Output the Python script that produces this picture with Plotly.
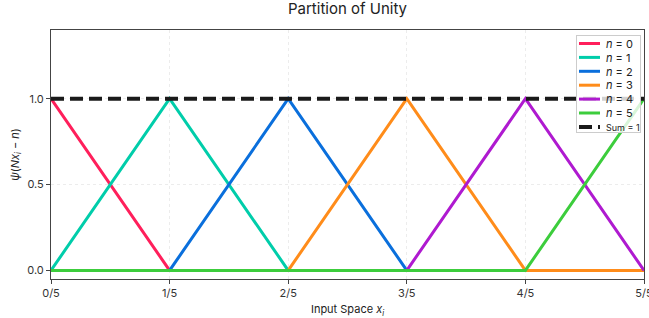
import numpy as np
import plotly.graph_objects as go

N = 5
x_knots = [0.0, 0.2, 0.4, 0.6, 0.8, 1.0]
series_names = ["n = 0", "n = 1", "n = 2", "n = 3", "n = 4", "n = 5"]
series_values = [
    [1, 0, 0, 0, 0, 0],
    [0, 1, 0, 0, 0, 0],
    [0, 0, 1, 0, 0, 0],
    [0, 0, 0, 1, 0, 0],
    [0, 0, 0, 0, 1, 0],
    [0, 0, 0, 0, 0, 1],
]
sum_values = [1, 1, 1, 1, 1, 1]
colors = ["#FF1F5B", "#00CDAA", "#0A6FDC", "#FF8C1A", "#AF1AD0", "#3CCD3C"]
tick_vals = [0, 0.2, 0.4, 0.6, 0.8, 1.0]
tick_text = ["0/5", "1/5", "2/5", "3/5", "4/5", "5/5"]

fig = go.Figure()
for i, (name, vals) in enumerate(zip(series_names, series_values)):
    fig.add_trace(go.Scatter(
        x=x_knots, y=vals, mode="lines",
        name="<i>n</i> = %d" % i,
        line=dict(color=colors[i], width=3),
    ))
fig.add_trace(go.Scatter(
    x=x_knots, y=sum_values, mode="lines", name="<span style='font-size:9px'>Sum = 1</span>",
    line=dict(color="#1a1a1a", width=4, dash="13px,6px"),
))

axis_common = dict(
    showline=True, linecolor="#444", linewidth=1, mirror=True,
    ticks="outside", ticklen=4, tickcolor="#444", automargin=False,
    showgrid=True, gridcolor="#ececec", griddash="dot", gridwidth=1,
    zeroline=False, tickfont=dict(size=11, color="#333"),
)
fig.update_layout(
    width=649, height=318,
    margin=dict(l=51, r=5, t=30, b=39),
    paper_bgcolor="white", plot_bgcolor="white",
    font=dict(family="Inter, Roboto, sans-serif", color="#222"),
    title=dict(text="Partition of Unity", xref="paper", x=0.5, xanchor="center", y=0.99, yanchor="top",
               font=dict(size=15, color="#222")),
    xaxis=dict(range=[0, 1], tickvals=tick_vals, ticktext=tick_text, ticklabeloverflow="allow",
               title=dict(text="Input Space <i>x<sub>i</sub></i>", font=dict(size=11), standoff=6),
               **axis_common),
    yaxis=dict(range=[-0.05, 1.4], tickvals=[0, 0.5, 1.0], ticktext=["0.0", "0.5", "1.0"],
               title=dict(text="<i>ψ</i>(<i>Nx<sub>i</sub></i> − <i>n</i>)", font=dict(size=11), standoff=5),
               **axis_common),
    legend=dict(x=0.995, y=0.98, xanchor="right", yanchor="top",
                bgcolor="rgba(255,255,255,0.8)", bordercolor="#ccc", borderwidth=1,
                font=dict(size=11), itemwidth=30, tracegroupgap=0),
    showlegend=True,
)

post_js = """
document.body.style.margin='0';document.body.style.overflow='hidden';
(function(){
  var gd=document.getElementById('{plot_id}');
  function fix(){
    var lg=gd.querySelector('.legend'); if(!lg) return;
    var traces=lg.querySelectorAll('.traces');
    var step=13.9, y0=8.5;
    traces.forEach(function(t,i){
      t.setAttribute('transform','translate(1,'+(y0+i*step)+')');
      t.querySelectorAll('path.js-line').forEach(function(p){p.setAttribute('d','M2,0h21');});
      var tx=t.querySelector('text.legendtext'); if(tx){tx.setAttribute('x','29');}
      var tog=t.querySelector('rect.legendtoggle'); if(tog){tog.setAttribute('width','60');tog.setAttribute('height','13');tog.setAttribute('y','-6.5');}
    });
    var W=64, H=97;
    var bg=lg.querySelector('rect.bg');
    if(bg){bg.setAttribute('width',W);bg.setAttribute('height',H);}
    lg.setAttribute('transform','translate('+(640-W)+',35)');
  }
  fix();
  if(gd.on){gd.on('plotly_afterplot',fix);}
  setTimeout(fix,50);setTimeout(fix,300);
})();
"""
fig.write_html("out.html", config={"displayModeBar": False}, post_script=post_js)
